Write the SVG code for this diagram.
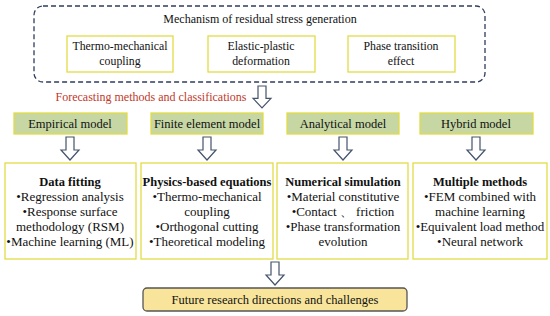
<svg xmlns="http://www.w3.org/2000/svg" width="550" height="316" viewBox="0 0 550 316">
<defs>
<style>
text{font-family:"Liberation Serif","Times New Roman",serif;fill:#111;text-anchor:middle}
.t{font-size:12.5px}
.s{font-size:11.8px}
.c{font-size:13px}
.b{font-size:12.5px;font-weight:bold}
.ybox{fill:#fff;stroke:#e3dc45;stroke-width:1.3}
.gbox{fill:#c6d7a3;stroke:#e3dc45;stroke-width:1.3}
.arr{fill:#fff;stroke:#44546a;stroke-width:1.2;stroke-linejoin:miter}
</style>
<path id="ar" d="M-4,0 H4 V13 H9 L0,23 L-9,13 H-4 Z"/>
</defs>
<rect width="550" height="316" fill="#fff"/>
<g id="mechanism">
<rect x="34" y="6" width="451" height="76" rx="9" fill="#fff" stroke="#2f3d5e" stroke-width="1.3" stroke-dasharray="5,3"/>
<text x="260" y="23" style="font-size:12px">Mechanism of residual stress generation</text>
</g>
<g id="thermo"><rect class="ybox" x="67" y="36" width="106" height="36"/><text class="s" x="120" y="50">Thermo-mechanical</text><text class="s" x="120" y="65">coupling</text></g>
<g id="elastic"><rect class="ybox" x="208" y="36" width="107" height="36"/><text class="s" x="261" y="50">Elastic-plastic</text><text class="s" x="261" y="65">deformation</text></g>
<g id="phase"><rect class="ybox" x="348" y="36" width="107" height="36"/><text class="s" x="401" y="50">Phase transition</text><text class="s" x="401" y="65">effect</text></g>
<text x="151" y="101" style="fill:#c0392b;font-size:12px">Forecasting methods and classifications</text>
<g id="empirical"><rect class="gbox" x="14" y="113" width="113" height="21"/><text class="t" x="70" y="128">Empirical model</text></g>
<g id="fem"><rect class="gbox" x="151" y="113" width="112" height="21"/><text class="t" x="207" y="128">Finite element model</text></g>
<g id="analytical"><rect class="gbox" x="287" y="113" width="112" height="21"/><text class="t" x="343" y="128">Analytical model</text></g>
<g id="hybrid"><rect class="gbox" x="420" y="113" width="113" height="21"/><text class="t" x="476" y="128">Hybrid model</text></g>
<g id="datafit"><rect class="ybox" x="5" y="163" width="131" height="96"/>
<text class="b" x="70" y="186">Data fitting</text>
<text class="c" x="70" y="201">•Regression analysis</text>
<text class="c" x="70" y="216">•Response surface</text>
<text class="c" x="70" y="231">methodology (RSM)</text>
<text class="c" x="70" y="246">•Machine learning (ML)</text></g>
<g id="physics"><rect class="ybox" x="141" y="163" width="132" height="96"/>
<text class="b" x="207" y="186">Physics-based equations</text>
<text class="c" x="207" y="201">•Thermo-mechanical</text>
<text class="c" x="207" y="216">coupling</text>
<text class="c" x="207" y="231">•Orthogonal cutting</text>
<text class="c" x="207" y="246">•Theoretical modeling</text></g>
<g id="numerical"><rect class="ybox" x="277" y="163" width="131" height="96"/>
<text class="b" x="343" y="186">Numerical simulation</text>
<text class="c" x="343" y="201">•Material constitutive</text>
<text class="c" x="343" y="216">•Contact 、 friction</text>
<text class="c" x="343" y="231">•Phase transformation</text>
<text class="c" x="343" y="246">evolution</text></g>
<g id="multiple"><rect class="ybox" x="413" y="163" width="134" height="96"/>
<text class="b" x="480" y="186">Multiple methods</text>
<text class="c" x="480" y="201">•FEM combined with</text>
<text class="c" x="480" y="216">machine learning</text>
<text class="c" x="480" y="231">•Equivalent load method</text>
<text class="c" x="480" y="246">•Neural network</text></g>
<g id="future"><rect x="143" y="288" width="264" height="23" rx="4" fill="#f8e59b" stroke="#555" stroke-width="1.3"/>
<text class="t" x="275" y="304">Future research directions and challenges</text></g>
<g id="connectors">
<use href="#ar" class="arr" transform="translate(262,86) scale(1,0.95)"/>
<use href="#ar" class="arr" transform="translate(70,137)"/>
<use href="#ar" class="arr" transform="translate(207,137)"/>
<use href="#ar" class="arr" transform="translate(343,137)"/>
<use href="#ar" class="arr" transform="translate(476,137)"/>
<use href="#ar" class="arr" transform="translate(275,262)"/>
</g>
</svg>
